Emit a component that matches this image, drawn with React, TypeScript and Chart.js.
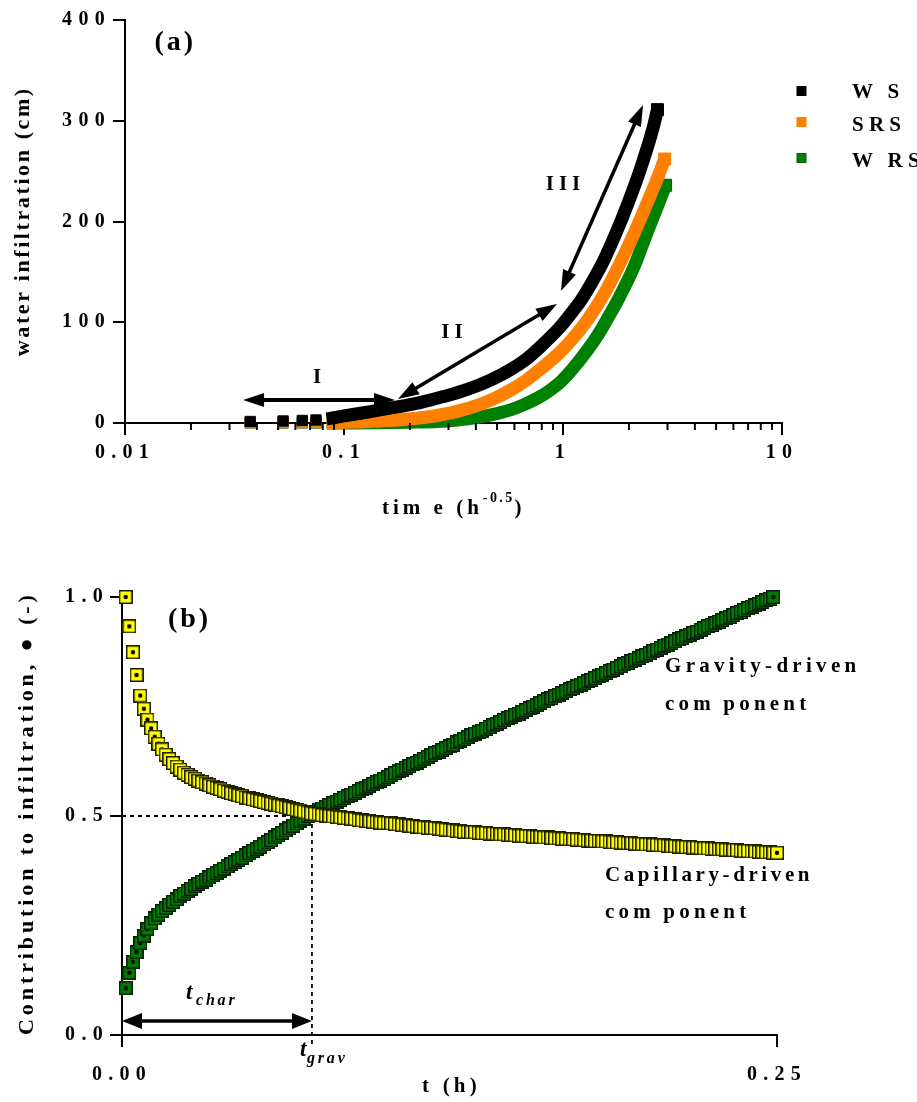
import React, { useEffect, useRef } from 'react';
import { Chart, registerables } from 'chart.js';

Chart.register(...registerables);

const SERIF = "'Liberation Serif', 'Times New Roman', Times, serif";

// ---------------- Panel (a): cumulative infiltration vs time ----------------
const WS_T = [0.0373, 0.0527, 0.0645, 0.0745, 0.0833, 0.1, 0.13, 0.16, 0.187, 0.22, 0.25, 0.3, 0.339, 0.4, 0.482, 0.57, 0.685, 0.8, 0.977, 1.1, 1.21, 1.35, 1.54, 1.75, 1.98, 2.2, 2.44, 2.6, 2.7];
const WS_I = [1.5, 2.0, 2.5, 3.0, 4.0, 7, 11, 14.5, 17, 20, 23, 27.5, 31, 36.5, 44, 52.5, 64, 77, 96, 110, 122, 139, 162, 189, 218, 245, 275, 296, 311];

const SRS_T = [0.0373, 0.0527, 0.0645, 0.0745, 0.0833, 0.1, 0.13, 0.16, 0.187, 0.25, 0.3, 0.339, 0.4, 0.482, 0.57, 0.685, 0.8, 0.977, 1.1, 1.29, 1.54, 1.75, 1.98, 2.2, 2.44, 2.7, 2.91];
const SRS_I = [0.4, 0.5, 0.6, 0.7, 0.6, 0.8, 1.5, 2.5, 3.5, 6.5, 9.5, 12.3, 17, 24, 32, 43, 54.5, 71, 83, 102, 128, 151, 175, 197, 220, 243, 262];

const WRS_T = [0.0373, 0.0527, 0.0645, 0.0745, 0.0833, 0.1, 0.15, 0.2, 0.267, 0.33, 0.404, 0.48, 0.575, 0.66, 0.763, 0.86, 0.977, 1.1, 1.29, 1.45, 1.6, 1.76, 1.92, 2.07, 2.2, 2.42, 2.7, 2.94];
const WRS_I = [0.1, 0.1, 0.1, 0.1, 0.1, 0.1, 0.3, 0.8, 1.5, 3, 5.3, 8.5, 13, 18, 24.5, 31.5, 41, 53, 72, 88, 104, 120, 136, 151, 165, 189, 215, 236];

const SERIES_NAMES = ['W\u2009S', 'SRS', 'W\u2009RS'];
const SERIES_COLORS = ['#000000', '#ff8000', '#008000'];
const SERIES_EDGES = ['#000000', '#ff8000', '#0a5a0a'];

const TOP_X_TICKS = [0.01, 0.02, 0.03, 0.04, 0.05, 0.06, 0.07, 0.08, 0.09, 0.1, 0.2, 0.3, 0.4, 0.5, 0.6, 0.7, 0.8, 0.9, 1, 2, 3, 4, 5, 6, 7, 8, 9, 10];
const TOP_X_LABELS: Record<string, string> = { '0.01': '0.01', '0.1': '0.1', '1': '1', '10': '10' };
const TOP_Y_TICKS = [0, 100, 200, 300, 400];
const TOP_Y_LABELS = ['0', '100', '200', '300', '400'];

// annotation anchors (data units)
const ARROW_I = [[0.0346, 22.8], [0.171, 22.8]];
const ARROW_II = [[0.1764, 23.8], [0.939, 118]];
const ARROW_III = [[0.979, 131], [2.32, 315.6]];
const LABEL_I = [0.0753, 44.7];
const LABEL_II = [0.311, 89.3];
const LABEL_III = [1.0, 237];
const LABEL_A = [0.0167, 377];

// ---------------- Panel (b): contributions vs time ----------------
const TIME_S = [
  5, 10, 15, 20, 25, 30, 35, 40, 45, 50, 55, 60, 65, 70, 75, 80, 85, 90, 95, 100,
  105, 110, 115, 120, 125, 130, 135, 140, 145, 150, 155, 160, 165, 170, 175, 180, 185, 190, 195, 200,
  205, 210, 215, 220, 225, 230, 235, 240, 245, 250, 255, 260, 265, 270, 275, 280, 285, 290, 295, 300,
  305, 310, 315, 320, 325, 330, 335, 340, 345, 350, 355, 360, 365, 370, 375, 380, 385, 390, 395, 400,
  405, 410, 415, 420, 425, 430, 435, 440, 445, 450, 455, 460, 465, 470, 475, 480, 485, 490, 495, 500,
  505, 510, 515, 520, 525, 530, 535, 540, 545, 550, 555, 560, 565, 570, 575, 580, 585, 590, 595, 600,
  605, 610, 615, 620, 625, 630, 635, 640, 645, 650, 655, 660, 665, 670, 675, 680, 685, 690, 695, 700,
  705, 710, 715, 720, 725, 730, 735, 740, 745, 750, 755, 760, 765, 770, 775, 780, 785, 790, 795, 800,
  805, 810, 815, 820, 825, 830, 835, 840, 845, 850, 855, 860, 865, 870, 875, 880, 885, 890, 895, 900,
];

const CAPILLARY = [
  1.000, 0.933, 0.874, 0.822, 0.775, 0.745, 0.720, 0.700, 0.681, 0.665, 0.652, 0.640, 0.630, 0.621, 0.613, 0.606, 0.599, 0.594, 0.589, 0.585,
  0.581, 0.577, 0.574, 0.570, 0.567, 0.564, 0.561, 0.558, 0.555, 0.552, 0.550, 0.547, 0.545, 0.542, 0.540, 0.538, 0.536, 0.534, 0.532, 0.530,
  0.528, 0.526, 0.524, 0.522, 0.520, 0.518, 0.516, 0.514, 0.512, 0.510, 0.508, 0.506, 0.505, 0.504, 0.502, 0.501, 0.500, 0.499, 0.498, 0.497,
  0.496, 0.495, 0.494, 0.493, 0.491, 0.490, 0.489, 0.488, 0.487, 0.486, 0.485, 0.484, 0.484, 0.483, 0.482, 0.481, 0.480, 0.479, 0.478, 0.477,
  0.476, 0.475, 0.474, 0.473, 0.473, 0.472, 0.471, 0.470, 0.469, 0.468, 0.467, 0.466, 0.465, 0.464, 0.464, 0.463, 0.463, 0.462, 0.461, 0.461,
  0.460, 0.460, 0.459, 0.458, 0.458, 0.457, 0.457, 0.456, 0.455, 0.455, 0.454, 0.454, 0.453, 0.452, 0.452, 0.451, 0.451, 0.450, 0.449, 0.449,
  0.448, 0.448, 0.447, 0.447, 0.446, 0.446, 0.445, 0.444, 0.444, 0.443, 0.443, 0.442, 0.442, 0.441, 0.440, 0.440, 0.439, 0.439, 0.438, 0.438,
  0.437, 0.436, 0.436, 0.435, 0.435, 0.434, 0.434, 0.433, 0.433, 0.432, 0.431, 0.431, 0.430, 0.430, 0.429, 0.429, 0.428, 0.428, 0.427, 0.426,
  0.426, 0.425, 0.425, 0.424, 0.424, 0.423, 0.423, 0.422, 0.422, 0.421, 0.420, 0.420, 0.419, 0.419, 0.418, 0.418, 0.417, 0.417, 0.416, 0.416,
];

const GRAVITY = [
  0.107, 0.142, 0.167, 0.189, 0.210, 0.227, 0.242, 0.255, 0.266, 0.275, 0.283, 0.290, 0.297, 0.304, 0.310, 0.317, 0.323, 0.329, 0.334, 0.340,
  0.345, 0.350, 0.355, 0.360, 0.365, 0.370, 0.375, 0.380, 0.385, 0.390, 0.395, 0.400, 0.405, 0.410, 0.415, 0.420, 0.425, 0.430, 0.435, 0.440,
  0.445, 0.451, 0.456, 0.462, 0.467, 0.472, 0.478, 0.483, 0.489, 0.494, 0.500, 0.505, 0.509, 0.513, 0.517, 0.521, 0.525, 0.529, 0.533, 0.537,
  0.541, 0.545, 0.549, 0.553, 0.557, 0.561, 0.565, 0.569, 0.573, 0.577, 0.581, 0.585, 0.589, 0.593, 0.598, 0.602, 0.606, 0.610, 0.614, 0.618,
  0.622, 0.626, 0.630, 0.635, 0.639, 0.643, 0.647, 0.651, 0.655, 0.659, 0.663, 0.668, 0.672, 0.676, 0.680, 0.684, 0.688, 0.692, 0.695, 0.699,
  0.703, 0.707, 0.711, 0.715, 0.719, 0.723, 0.727, 0.731, 0.734, 0.738, 0.742, 0.746, 0.750, 0.754, 0.758, 0.762, 0.766, 0.769, 0.773, 0.777,
  0.781, 0.785, 0.789, 0.792, 0.796, 0.800, 0.804, 0.808, 0.811, 0.815, 0.819, 0.823, 0.827, 0.830, 0.834, 0.838, 0.842, 0.846, 0.849, 0.853,
  0.857, 0.861, 0.865, 0.868, 0.872, 0.876, 0.880, 0.884, 0.888, 0.891, 0.895, 0.899, 0.903, 0.906, 0.910, 0.914, 0.918, 0.921, 0.925, 0.929,
  0.933, 0.936, 0.940, 0.944, 0.948, 0.951, 0.955, 0.959, 0.963, 0.966, 0.970, 0.974, 0.978, 0.981, 0.985, 0.989, 0.993, 0.996, 1.000,
];

const BOT_X_TICKS = [0, 0.25];
const BOT_X_LABELS = ['0.00', '0.25'];
const BOT_Y_TICKS = [0, 0.5, 1.0];
const BOT_Y_LABELS = ['0.0', '0.5', '1.0'];
const T_GRAV = 0.0725;
const HALF = 0.5;

// ---------------- helpers ----------------
const TICK_FONT = { family: SERIF, size: 20, weight: 'bold' as const };
const TICK_LS = '6.3px';

function isPow10(v: any) {
  if (v == null || v <= 0) return false;
  const l = Math.log10(v);
  return Math.abs(l - Math.round(l)) < 1e-9;
}

type TxtOpt = { size?: number; ls?: number; align?: 'left' | 'center' | 'right'; base?: CanvasTextBaseline; italic?: boolean; rot?: number };
function txt(ctx: any, s: string, x: number, y: number, o: TxtOpt = {}) {
  const ls = o.ls ?? 0;
  ctx.save();
  ctx.font = `${o.italic ? 'italic ' : ''}bold ${o.size ?? 20}px ${SERIF}`;
  ctx.letterSpacing = `${ls}px`;
  ctx.fillStyle = '#000';
  ctx.textAlign = 'left';
  ctx.textBaseline = o.base ?? 'middle';
  const w = ctx.measureText(s).width - ls;
  let dx = 0;
  if (o.align === 'center') dx = -w / 2;
  else if (o.align === 'right') dx = -w;
  ctx.translate(x, y);
  if (o.rot) ctx.rotate(o.rot);
  ctx.fillText(s, dx, 0);
  const adv = ctx.measureText(s).width;
  ctx.restore();
  return adv;
}

function head(ctx: any, x: number, y: number, c: number, s: number, hl: number, hw: number) {
  ctx.beginPath();
  ctx.moveTo(x, y);
  ctx.lineTo(x - c * hl - s * hw, y - s * hl + c * hw);
  ctx.lineTo(x - c * hl + s * hw, y - s * hl - c * hw);
  ctx.closePath();
  ctx.fill();
}

function arrow(ctx: any, x1: number, y1: number, x2: number, y2: number, lw: number, hl: number, hw: number, both: boolean) {
  const ang = Math.atan2(y2 - y1, x2 - x1);
  const c = Math.cos(ang), s = Math.sin(ang);
  ctx.save();
  ctx.strokeStyle = '#000';
  ctx.fillStyle = '#000';
  ctx.lineWidth = lw;
  ctx.lineCap = 'butt';
  ctx.beginPath();
  ctx.moveTo(both ? x1 + c * hl * 0.9 : x1, both ? y1 + s * hl * 0.9 : y1);
  ctx.lineTo(x2 - c * hl * 0.9, y2 - s * hl * 0.9);
  ctx.stroke();
  head(ctx, x2, y2, c, s, hl, hw);
  if (both) head(ctx, x1, y1, -c, -s, hl, hw);
  ctx.restore();
}

function makeMarker(fill: string, edge: string) {
  const size = 14, bw = 1.5;
  const c = document.createElement('canvas');
  c.width = size;
  c.height = size;
  const g = c.getContext('2d')!;
  g.fillStyle = edge;
  g.fillRect(0, 0, size, size);
  g.fillStyle = fill;
  g.fillRect(bw, bw, size - 2 * bw, size - 2 * bw);
  g.fillStyle = '#000';
  g.beginPath();
  g.arc(size / 2, size / 2, 2.2, 0, Math.PI * 2);
  g.fill();
  return c;
}

const spacingPlugin = {
  id: 'spacing',
  beforeUpdate(chart: any) { chart.ctx.letterSpacing = TICK_LS; },
  beforeDraw(chart: any) { chart.ctx.letterSpacing = TICK_LS; },
};

function axisCommon(tickColor: any) {
  return {
    grid: { display: true, drawOnChartArea: false, drawTicks: true, tickLength: 12, tickWidth: 2, tickColor, color: '#000', lineWidth: 2 },
    border: { display: true, color: '#000', width: 2 },
  };
}

// ---------------- Panel (a) config ----------------
function topDataset(label: string, T: number[], I: number[], color: string, edge: string) {
  const last = T.length - 1;
  return {
    label,
    data: T.map((x, i) => ({ x, y: I[i] })),
    showLine: true,
    borderColor: color,
    backgroundColor: color,
    borderWidth: 13,
    borderCapStyle: 'butt',
    borderJoinStyle: 'round',
    cubicInterpolationMode: 'monotone',
    tension: 0.4,
    pointStyle: 'rect',
    pointRadius: (c: any) => (c.dataIndex < 4 ? 7.3 : c.dataIndex === last ? 8.5 : 0),
    pointBackgroundColor: color,
    pointBorderColor: edge,
    pointBorderWidth: 1,
    clip: false,
    segment: { borderColor: (ctx: any) => (ctx.p0DataIndex < 4 ? 'rgba(0,0,0,0)' : color) },
  };
}

const topDecor = {
  id: 'topDecor',
  afterDraw(chart: any) {
    const ctx = chart.ctx, xs = chart.scales.x, ys = chart.scales.y, a = chart.chartArea;
    const P = (p: number[]): [number, number] => [xs.getPixelForValue(p[0]), ys.getPixelForValue(p[1])];
    ctx.save();
    ctx.letterSpacing = '0px';
    // minor ticks
    ctx.strokeStyle = '#000';
    ctx.lineWidth = 2;
    for (const v of TOP_X_TICKS) {
      if (isPow10(v)) continue;
      const px = xs.getPixelForValue(v);
      ctx.beginPath();
      ctx.moveTo(px, a.bottom);
      ctx.lineTo(px, a.bottom + 7);
      ctx.stroke();
    }
    // arrows
    arrow(ctx, ...P(ARROW_I[0]), ...P(ARROW_I[1]), 4, 21, 7, true);
    arrow(ctx, ...P(ARROW_II[0]), ...P(ARROW_II[1]), 3.5, 21, 7, true);
    arrow(ctx, ...P(ARROW_III[0]), ...P(ARROW_III[1]), 3.5, 21, 7, true);
    txt(ctx, 'I', ...P(LABEL_I), { size: 21, align: 'center' });
    txt(ctx, 'II', ...P(LABEL_II), { size: 21, ls: 5, align: 'center' });
    txt(ctx, 'III', ...P(LABEL_III), { size: 21, ls: 5, align: 'center' });
    txt(ctx, '(a)', ...P(LABEL_A), { size: 28, ls: 3, align: 'center' });
    // legend
    const LEG_Y = [91, 122, 158];
    const TXT_Y = [93, 126, 162];
    SERIES_NAMES.forEach((n, i) => {
      const sx = a.right + 14.5;
      ctx.fillStyle = SERIES_EDGES[i];
      ctx.fillRect(sx, LEG_Y[i] - 5, 10, 10);
      ctx.fillStyle = SERIES_COLORS[i];
      ctx.fillRect(sx + 1, LEG_Y[i] - 4, 8, 8);
      txt(ctx, n, a.right + 70, TXT_Y[i], { size: 21, ls: 5.2 });
    });
    // axis titles
    txt(ctx, 'water infiltration (cm)', 29, (a.top + a.bottom) / 2 + 1, { size: 22, ls: 2.6, align: 'center', base: 'alphabetic', rot: -Math.PI / 2 });
    let x0 = 382;
    x0 += txt(ctx, 'tim e (h', x0, 514, { size: 21, ls: 4.0, base: 'alphabetic' });
    x0 += txt(ctx, '-0.5', x0, 502, { size: 14, ls: 2.4, base: 'alphabetic' });
    txt(ctx, ')', x0, 514, { size: 21, base: 'alphabetic' });
    ctx.restore();
  },
};

function topConfig(): any {
  return {
    type: 'scatter',
    data: {
      datasets: [
        topDataset(SERIES_NAMES[0], WS_T, WS_I, SERIES_COLORS[0], SERIES_EDGES[0]),
        topDataset(SERIES_NAMES[1], SRS_T, SRS_I, SERIES_COLORS[1], SERIES_EDGES[1]),
        topDataset(SERIES_NAMES[2], WRS_T, WRS_I, SERIES_COLORS[2], SERIES_EDGES[2]),
      ],
    },
    options: {
      responsive: false,
      animation: false,
      events: [],
      layout: { padding: { top: 20, right: 135, left: 0, bottom: 0 } },
      plugins: { legend: { display: false }, tooltip: { enabled: false }, title: { display: false } },
      scales: {
        x: {
          type: 'logarithmic',
          min: 0.01,
          max: 10,
          position: 'bottom',
          afterBuildTicks: (s: any) => { s.ticks = TOP_X_TICKS.map((v) => ({ value: v })); },
          afterFit: (s: any) => { s.height = 117; },
          ...axisCommon((c: any) => (isPow10(c.tick?.value) ? '#000' : 'rgba(0,0,0,0)')),
          ticks: {
            autoSkip: false, maxRotation: 0, minRotation: 0, padding: 6, color: '#000', font: TICK_FONT,
            callback: (v: any) => TOP_X_LABELS[String(v)] ?? '',
          },
        },
        y: {
          type: 'linear',
          min: 0,
          max: 400,
          afterBuildTicks: (s: any) => { s.ticks = TOP_Y_TICKS.map((v) => ({ value: v })); },
          afterFit: (s: any) => { s.width = 125; },
          ...axisCommon('#000'),
          ticks: {
            autoSkip: false, padding: 2, color: '#000', font: TICK_FONT,
            callback: (_v: any, i: number) => TOP_Y_LABELS[i],
          },
        },
      },
    },
    plugins: [spacingPlugin, topDecor],
  };
}

// ---------------- Panel (b) config ----------------
const botUnder = {
  id: 'botUnder',
  beforeDatasetsDraw(chart: any) {
    const ctx = chart.ctx, xs = chart.scales.x, ys = chart.scales.y, a = chart.chartArea;
    const xg = xs.getPixelForValue(T_GRAV), yh = ys.getPixelForValue(HALF), x0 = xs.getPixelForValue(0);
    ctx.save();
    ctx.strokeStyle = '#000';
    ctx.lineWidth = 1.8;
    ctx.setLineDash([4, 4]);
    ctx.beginPath();
    ctx.moveTo(x0, yh);
    ctx.lineTo(xg, yh);
    ctx.moveTo(xg, yh);
    ctx.lineTo(xg, a.bottom + 10);
    ctx.stroke();
    ctx.restore();
  },
};

const botDecor = {
  id: 'botDecor',
  afterDraw(chart: any) {
    const ctx = chart.ctx, xs = chart.scales.x, a = chart.chartArea;
    const xg = xs.getPixelForValue(T_GRAV), x0 = xs.getPixelForValue(0);
    ctx.save();
    ctx.letterSpacing = '0px';
    arrow(ctx, x0, a.bottom - 14, xg, a.bottom - 14, 3.5, 20, 8, true);
    txt(ctx, '(b)', 188, 80, { size: 28, ls: 3, align: 'center' });
    txt(ctx, 't', 186, 453, { size: 23, italic: true });
    txt(ctx, 'char', 196, 461, { size: 16, ls: 2.8, italic: true });
    txt(ctx, 't', 300, 510, { size: 23, italic: true });
    txt(ctx, 'grav', 307, 519, { size: 16, ls: 2.8, italic: true });
    txt(ctx, 'Gravity-driven', 665, 127, { size: 21, ls: 4.3 });
    txt(ctx, 'com\u2009ponent', 665, 165, { size: 21, ls: 4.2 });
    txt(ctx, 'Capillary-driven', 605, 336, { size: 21, ls: 3.6 });
    txt(ctx, 'com\u2009ponent', 605, 373, { size: 21, ls: 4.2 });
    txt(ctx, 'Contribution to infiltration, \u25CF (-)', 33, 275, { size: 22, ls: 3.9, align: 'center', base: 'alphabetic', rot: -Math.PI / 2 });
    txt(ctx, 't (h)', 422, 547, { size: 21, ls: 4.2 });
    ctx.restore();
  },
};

function botConfig(yellow: HTMLCanvasElement, green: HTMLCanvasElement): any {
  return {
    type: 'scatter',
    data: {
      datasets: [
        {
          label: 'Capillary-driven component',
          data: CAPILLARY.map((v, i) => ({ x: TIME_S[i] / 3600, y: v })),
          showLine: false, pointStyle: yellow, pointRadius: 6, clip: false,
        },
        {
          label: 'Gravity-driven component',
          data: GRAVITY.map((v, i) => ({ x: TIME_S[i] / 3600, y: v })),
          showLine: false, pointStyle: green, pointRadius: 6, clip: false,
        },
      ],
    },
    options: {
      responsive: false,
      animation: false,
      events: [],
      layout: { padding: { top: 57, right: 140, left: 0, bottom: 0 } },
      plugins: { legend: { display: false }, tooltip: { enabled: false }, title: { display: false } },
      scales: {
        x: {
          type: 'linear',
          min: 0,
          max: 0.25,
          afterBuildTicks: (s: any) => { s.ticks = BOT_X_TICKS.map((v) => ({ value: v })); },
          afterFit: (s: any) => { s.height = 67; },
          ...axisCommon('#000'),
          ticks: {
            autoSkip: false, maxRotation: 0, minRotation: 0, padding: 16, color: '#000', font: TICK_FONT,
            callback: (_v: any, i: number) => BOT_X_LABELS[i],
          },
        },
        y: {
          type: 'linear',
          min: 0,
          max: 1,
          afterBuildTicks: (s: any) => { s.ticks = BOT_Y_TICKS.map((v) => ({ value: v })); },
          afterFit: (s: any) => { s.width = 122; },
          ...axisCommon('#000'),
          ticks: {
            autoSkip: false, padding: 1, color: '#000', font: TICK_FONT,
            callback: (_v: any, i: number) => BOT_Y_LABELS[i],
          },
        },
      },
    },
    plugins: [spacingPlugin, botUnder, botDecor],
  };
}

export default function App() {
  const topRef = useRef<HTMLCanvasElement>(null);
  const botRef = useRef<HTMLCanvasElement>(null);
  useEffect(() => {
    Chart.defaults.font.family = SERIF;
    const yellow = makeMarker('#ffff00', '#1e1e00');
    const green = makeMarker('#007c00', '#0a1f0a');
    const c1 = new Chart(topRef.current as HTMLCanvasElement, topConfig());
    const c2 = new Chart(botRef.current as HTMLCanvasElement, botConfig(yellow, green));
    return () => {
      c1.destroy();
      c2.destroy();
    };
  }, []);
  return (
    <div style={{ position: 'absolute', left: 0, top: 0, width: 917, height: 1102, background: '#fff', overflow: 'hidden' }}>
      <canvas ref={topRef} width={917} height={540} style={{ position: 'absolute', left: 0, top: 0, width: 917, height: 540 }} />
      <canvas ref={botRef} width={917} height={562} style={{ position: 'absolute', left: 0, top: 540, width: 917, height: 562 }} />
    </div>
  );
}
